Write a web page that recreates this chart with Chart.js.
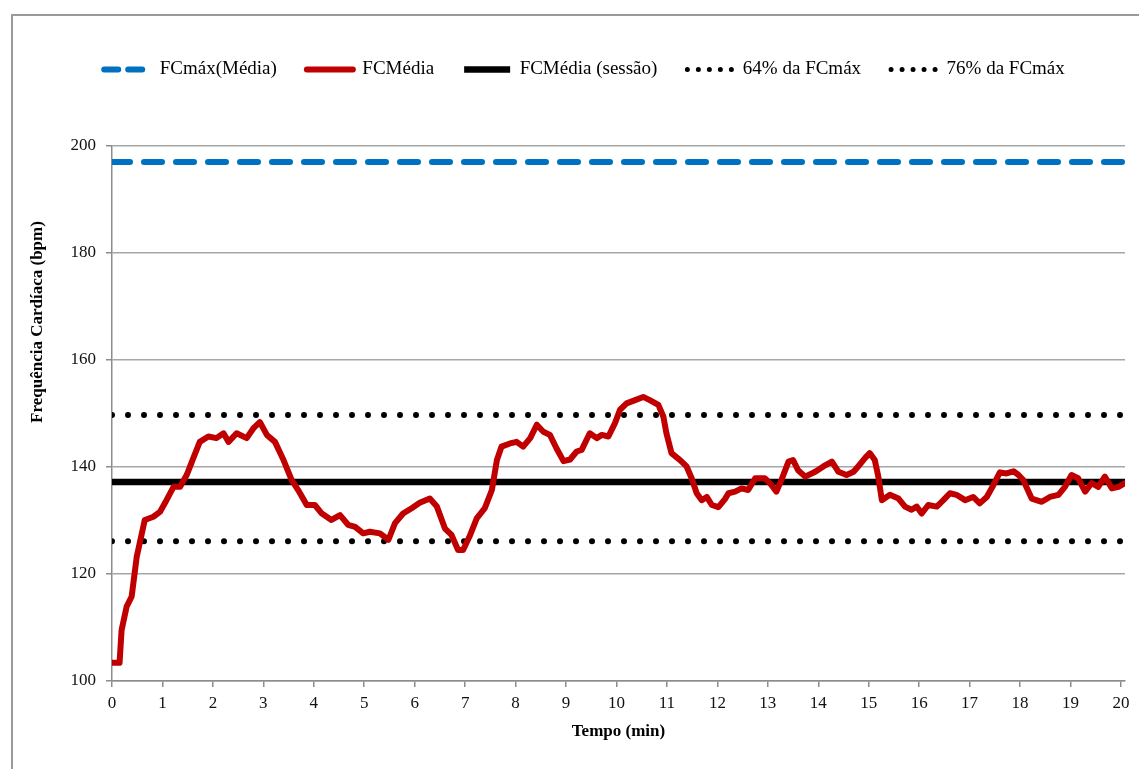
<!DOCTYPE html>
<html lang="pt">
<head>
<meta charset="utf-8">
<title>Frequência Cardíaca</title>
<script src="https://cdn.jsdelivr.net/npm/chart.js@4/dist/chart.umd.min.js"></script>
<style>
  html, body { margin: 0; padding: 0; background: #ffffff; }
  #wrap { position: relative; width: 1139px; height: 769px; overflow: hidden; }
  #frame { position: absolute; left: 11px; top: 14px; width: 1200px; height: 800px;
           border-left: 2px solid #9a9a9a; border-top: 2px solid #9a9a9a; box-sizing: border-box; }
  #c { position: absolute; left: 0; top: 0; }
</style>
</head>
<body>
<div id="wrap">
  <div id="frame"></div>
  <canvas id="c" width="1139" height="769"></canvas>
</div>
<script>
// Time axis (min) and mean heart rate of the group (bpm)
const timeMin = [
  0.00, 0.15, 0.19, 0.29, 0.39, 0.49, 0.65, 0.82, 0.95, 1.08,
  1.22, 1.35, 1.48, 1.61, 1.74, 1.91, 2.07, 2.21, 2.31, 2.47,
  2.67, 2.80, 2.93, 3.07, 3.23, 3.40, 3.56, 3.69, 3.86, 4.02,
  4.16, 4.35, 4.52, 4.68, 4.82, 4.98, 5.11, 5.31, 5.48, 5.61,
  5.77, 5.94, 6.10, 6.30, 6.44, 6.60, 6.73, 6.86, 6.96, 7.10,
  7.23, 7.39, 7.53, 7.63, 7.72, 7.89, 8.02, 8.15, 8.29, 8.42,
  8.55, 8.68, 8.81, 8.95, 9.08, 9.21, 9.31, 9.47, 9.61, 9.71,
  9.84, 9.97, 10.07, 10.20, 10.37, 10.53, 10.66, 10.83, 10.93, 10.99,
  11.09, 11.26, 11.39, 11.49, 11.59, 11.69, 11.79, 11.89, 12.02, 12.15,
  12.22, 12.35, 12.48, 12.61, 12.75, 12.94, 13.04, 13.17, 13.27, 13.41,
  13.50, 13.60, 13.74, 13.94, 14.10, 14.27, 14.40, 14.56, 14.70, 14.79,
  14.93, 15.02, 15.12, 15.19, 15.26, 15.42, 15.59, 15.72, 15.85, 15.95,
  16.05, 16.18, 16.35, 16.48, 16.61, 16.74, 16.91, 17.07, 17.20, 17.34,
  17.47, 17.60, 17.73, 17.87, 17.97, 18.06, 18.23, 18.43, 18.59, 18.76,
  18.89, 19.02, 19.15, 19.29, 19.42, 19.55, 19.68, 19.82, 19.95, 20.08
];
const fcMedia = [
  103.4, 103.4, 109.5, 113.9, 115.8, 123.2, 130.1, 130.7, 131.6, 133.8,
  136.3, 136.3, 138.5, 141.6, 144.7, 145.7, 145.4, 146.3, 144.7, 146.3,
  145.4, 147.2, 148.4, 146.0, 144.7, 141.3, 137.6, 135.7, 132.9, 132.9,
  131.3, 130.1, 131.0, 129.2, 128.8, 127.6, 127.9, 127.6, 126.4, 129.5,
  131.3, 132.3, 133.3, 134.1, 132.6, 128.5, 127.3, 124.5, 124.5, 127.3,
  130.4, 132.3, 135.7, 141.3, 143.8, 144.4, 144.7, 143.8, 145.4, 147.9,
  146.6, 146.0, 143.5, 141.1, 141.4, 142.9, 143.2, 146.3, 145.4, 146.0,
  145.7, 148.2, 150.7, 151.9, 152.5, 153.1, 152.5, 151.6, 149.4, 146.3,
  142.6, 141.3, 140.1, 137.9, 135.1, 133.8, 134.4, 132.9, 132.5, 134.0,
  135.1, 135.4, 136.0, 135.7, 137.9, 137.9, 137.0, 135.4, 137.6, 141.0,
  141.3, 139.4, 138.2, 139.1, 140.1, 141.0, 139.1, 138.5, 139.1, 140.1,
  141.7, 142.6, 141.3, 138.2, 133.8, 134.8, 134.1, 132.6, 132.0, 132.6,
  131.3, 132.9, 132.6, 133.8, 135.1, 134.8, 133.8, 134.4, 133.2, 134.4,
  136.6, 139.0, 138.8, 139.2, 138.5, 137.6, 134.1, 133.5, 134.4, 134.8,
  136.3, 138.5, 137.9, 135.4, 137.0, 136.3, 138.2, 136.0, 136.3, 137.0
];

// Reference levels (bpm)
const fcMaxMedia = 197;
const fcMediaSessao = 137.2;
const fc64 = 126.1;   // 64% da FCmáx
const fc76 = 149.7;   // 76% da FCmáx

// Axis ranges and ticks
const timeRange = [0, 20.08];
const bpmTicks = [100, 120, 140, 160, 180, 200];
const timeTicks = [0,1,2,3,4,5,6,7,8,9,10,11,12,13,14,15,16,17,18,19,20];

const seriesNames = ['FCmáx(Média)', 'FCMédia', 'FCMédia (sessão)', '64% da FCmáx', '76% da FCmáx'];

const flat = v => timeRange.map(t => ({ x: t, y: v }));
const serif = '"Liberation Serif", "Times New Roman", serif';

// y-axis caption, drawn vertically beside the tick labels
const yCaption = {
  id: 'yCaption',
  afterDraw(chart) {
    const ctx = chart.ctx;
    ctx.save();
    ctx.translate(38, 322);
    ctx.rotate(-Math.PI / 2);
    ctx.font = 'bold 17px ' + serif;
    ctx.fillStyle = '#000';
    ctx.textAlign = 'center';
    ctx.textBaseline = 'middle';
    ctx.fillText('Frequência Cardíaca (bpm)', 0, 0);
    ctx.restore();
  }
};

// fixed legend band height so the plot starts at the same place
const legendBand = {
  id: 'legendBand',
  beforeLayout(chart) {
    const lg = chart.legend;
    if (lg && !lg._bandPatched) {
      const fit = lg.fit.bind(lg);
      lg.fit = function () { fit(); this.height = 116; };
      lg._bandPatched = true;
    }
  }
};

new Chart(document.getElementById('c'), {
  type: 'line',
  data: {
    datasets: [
      { label: seriesNames[0], data: flat(fcMaxMedia), borderColor: '#0070c0', borderWidth: 6,
        borderDash: [18, 14], borderCapStyle: 'round', pointRadius: 0 },
      { label: seriesNames[1], data: timeMin.map((t, i) => ({ x: t, y: fcMedia[i] })),
        borderColor: '#c00000', borderWidth: 6, borderJoinStyle: 'round', borderCapStyle: 'round',
        pointRadius: 0 },
      { label: seriesNames[2], data: flat(fcMediaSessao), borderColor: '#000000', borderWidth: 6.5,
        pointRadius: 0 },
      { label: seriesNames[3], data: flat(fc64), borderColor: '#000000', borderWidth: 6,
        borderDash: [0, 16], borderCapStyle: 'round', pointRadius: 0 },
      { label: seriesNames[4], data: flat(fc76), borderColor: '#000000', borderWidth: 6,
        borderDash: [0, 16], borderCapStyle: 'round', pointRadius: 0 }
    ]
  },
  options: {
    responsive: false,
    animation: false,
    devicePixelRatio: 1,
    layout: { padding: { top: 30, left: 44, right: 14, bottom: 27 } },
    plugins: {
      tooltip: { enabled: false },
      legend: {
        position: 'top',
        labels: {
          usePointStyle: true,
          pointStyle: 'line',
          pointStyleWidth: 46,
          boxHeight: 19,
          padding: 30,
          color: '#000',
          font: { family: serif, size: 19 },
          generateLabels(chart) {
            const items = Chart.defaults.plugins.legend.labels.generateLabels(chart);
            items.forEach(it => {
              if (it.datasetIndex >= 3) { it.lineDash = [0, 11]; it.lineCap = 'round'; it.lineWidth = 5; }
              if (it.datasetIndex === 0) { it.lineDash = [14, 10]; it.lineCap = 'round'; }
              if (it.datasetIndex === 1) { it.lineCap = 'round'; }
            });
            return items;
          }
        }
      }
    },
    scales: {
      x: {
        type: 'linear',
        min: timeRange[0],
        max: timeRange[1],
        afterBuildTicks(scale) { scale.ticks = timeTicks.map(v => ({ value: v })); },
        afterFit(scale) { scale.height = 61; },
        grid: { drawOnChartArea: false, drawTicks: true, tickLength: 6, color: '#8c8c8c', lineWidth: 1.5 },
        border: { color: '#8c8c8c', width: 1.5 },
        ticks: { padding: 6, color: '#111', font: { family: serif, size: 17 }, maxRotation: 0, autoSkip: false },
        title: { display: true, text: 'Tempo (min)', color: '#000', padding: { top: 0, bottom: 0 },
                 font: { family: serif, size: 17, weight: 'bold' } }
      },
      y: {
        min: bpmTicks[0],
        max: bpmTicks[bpmTicks.length - 1],
        afterBuildTicks(scale) { scale.ticks = bpmTicks.map(v => ({ value: v })); },
        afterFit(scale) { scale.width = 68; },
        grid: { color: '#a6a6a6', lineWidth: 1.5, tickLength: 6, tickColor: '#8c8c8c' },
        border: { color: '#8c8c8c', width: 1.5 },
        ticks: { padding: 10, color: '#111', font: { family: serif, size: 17 } }
      }
    }
  },
  plugins: [legendBand, yCaption]
});
</script>
</body>
</html>
